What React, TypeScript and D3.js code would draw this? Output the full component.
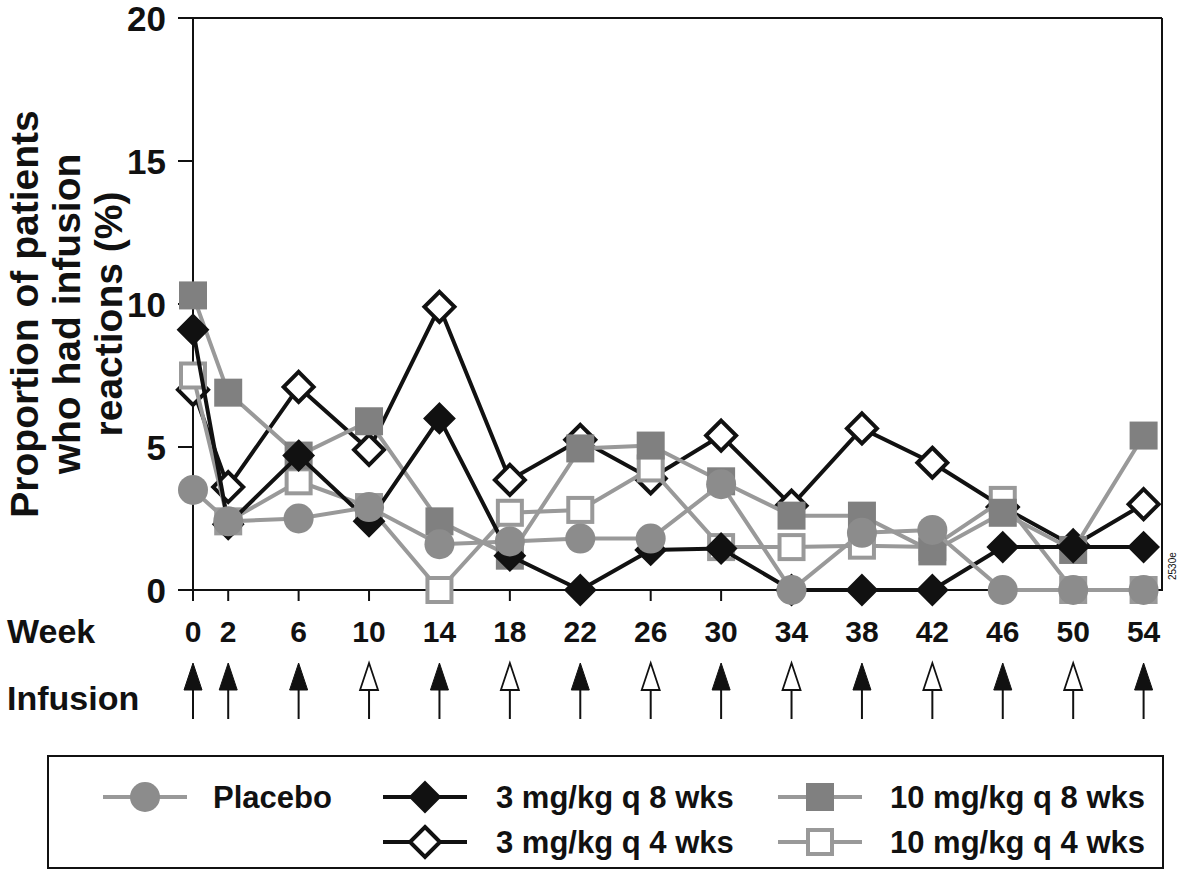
import React from "react";
import * as d3 from "d3";

const weeks = [0, 2, 6, 10, 14, 18, 22, 26, 30, 34, 38, 42, 46, 50, 54];
const placebo = [3.5, 2.4, 2.5, 2.9, 1.6, 1.7, 1.8, 1.8, 3.7, 0, 2.0, 2.1, 0, 0, 0];
const mg3q8 = [9.1, 2.3, 4.7, 2.4, 6.0, 1.2, 0, 1.4, 1.45, 0, 0, 0, 1.5, 1.5, 1.5];
const mg3q4 = [7.0, 3.6, 7.1, 4.9, 9.9, 3.85, 5.25, 3.9, 5.4, 2.95, 5.65, 4.45, 2.9, 1.55, 3.0];
const mg10q8 = [10.3, 6.9, 4.7, 5.9, 2.4, 1.2, 4.95, 5.05, 3.8, 2.6, 2.6, 1.35, 2.7, 1.4, 5.4];
const mg10q4 = [7.5, 2.4, 3.8, 2.9, 0, 2.7, 2.8, 4.25, 1.5, 1.5, 1.55, 1.5, 3.15, 0, 0];
const infusionFilled = [true, true, true, false, true, false, true, false, true, false, true, false, true, false, true];
const yTicks = [0, 5, 10, 15, 20];
const yTitleLines = ["Proportion of patients", "who had infusion", "reactions (%)"];

const FONT = "'Liberation Sans', Arial, Helvetica, sans-serif";
const BLACK = "#111";
const GREY_LINE = "#999";
const GREY_FILL = "#8c8c8c";
const SQ_FILL = "#808080";

type Kind = "circle" | "diamondFilled" | "diamondOpen" | "squareFilled" | "squareOpen";

function Marker({ kind, x, y }: { kind: Kind; x: number; y: number }) {
  if (kind === "circle") return <circle cx={x} cy={y} r={15} fill={GREY_FILL} />;
  if (kind === "diamondFilled" || kind === "diamondOpen") {
    const r = 15;
    const d = `M${x},${y - r}L${x + r},${y}L${x},${y + r}L${x - r},${y}Z`;
    return kind === "diamondFilled" ? (
      <path d={d} fill={BLACK} stroke={BLACK} strokeWidth={2} />
    ) : (
      <path d={d} fill="#fff" stroke={BLACK} strokeWidth={4} />
    );
  }
  if (kind === "squareFilled") return <rect x={x - 14} y={y - 14} width={28} height={28} fill={SQ_FILL} />;
  return <rect x={x - 12} y={y - 12} width={24} height={24} fill="#fff" stroke={GREY_LINE} strokeWidth={4} />;
}

export default function App() {
  const x = d3.scaleLinear().domain([0, 54]).range([193, 1143.6]);
  const y = d3.scaleLinear().domain([0, 20]).range([590, 18]);

  const series: { vals: number[]; kind: Kind; color: string }[] = [
    { vals: mg3q4, kind: "diamondOpen", color: BLACK },
    { vals: mg10q4, kind: "squareOpen", color: GREY_LINE },
    { vals: mg10q8, kind: "squareFilled", color: GREY_LINE },
    { vals: mg3q8, kind: "diamondFilled", color: BLACK },
    { vals: placebo, kind: "circle", color: GREY_LINE },
  ];

  const line = d3
    .line<number>()
    .x((_, i) => x(weeks[i]))
    .y((v) => y(v));

  const legend: { label: string; kind: Kind; color: string; lx: number; ly: number; tx: number }[] = [
    { label: "Placebo", kind: "circle", color: GREY_LINE, lx: 145, ly: 797, tx: 213 },
    { label: "3 mg/kg q 8 wks", kind: "diamondFilled", color: BLACK, lx: 425, ly: 797, tx: 496 },
    { label: "3 mg/kg q 4 wks", kind: "diamondOpen", color: BLACK, lx: 425, ly: 842, tx: 496 },
    { label: "10 mg/kg q 8 wks", kind: "squareFilled", color: GREY_LINE, lx: 820, ly: 797, tx: 890 },
    { label: "10 mg/kg q 4 wks", kind: "squareOpen", color: GREY_LINE, lx: 820, ly: 842, tx: 890 },
  ];

  return (
    <svg width={1200} height={886} style={{ position: "absolute", left: 0, top: 0, background: "#fff" }} fontFamily={FONT}>
      <rect width={1200} height={886} fill="#fff" />
      {/* frame */}
      <line x1={178} x2={1162} y1={18} y2={18} stroke={BLACK} strokeWidth={2} />
      <line x1={1162} x2={1162} y1={18} y2={591} stroke={BLACK} strokeWidth={2} />
      <line x1={193} x2={193} y1={18} y2={600} stroke={BLACK} strokeWidth={2} />
      <line x1={178} x2={1162} y1={590} y2={590} stroke={BLACK} strokeWidth={2} />
      {yTicks.map((t) => (
        <g key={t}>
          <line x1={178} x2={193} y1={y(t)} y2={y(t)} stroke={BLACK} strokeWidth={2} />
          <text x={166} y={y(t)} dy="0.36em" textAnchor="end" fontSize={35} fontWeight="bold" fill={BLACK}>
            {t}
          </text>
        </g>
      ))}
      {weeks.map((w) => (
        <line key={w} x1={x(w)} x2={x(w)} y1={590} y2={601} stroke={BLACK} strokeWidth={2} />
      ))}
      {/* y title */}
      <g transform="translate(0,314) rotate(-90)">
        {yTitleLines.map((t, i) => (
          <text key={t} x={0} y={38 + i * 42} textAnchor="middle" fontSize={39} fontWeight="bold" fill={BLACK}>
            {t}
          </text>
        ))}
      </g>
      {/* series */}
      {series.map((s, si) => (
        <g key={si}>
          <path d={line(s.vals) || ""} fill="none" stroke={s.color} strokeWidth={4} />
          {s.vals.map((v, i) => (
            <Marker key={i} kind={s.kind} x={x(weeks[i])} y={y(v)} />
          ))}
        </g>
      ))}
      {/* week labels */}
      <text x={7} y={643} fontSize={34} fontWeight="bold" fill={BLACK}>
        Week
      </text>
      {weeks.map((w) => (
        <text key={w} x={x(w)} y={642} textAnchor="middle" fontSize={30} fontWeight="bold" fill={BLACK}>
          {w}
        </text>
      ))}
      <text x={7} y={710} fontSize={34} fontWeight="bold" fill={BLACK}>
        Infusion
      </text>
      {weeks.map((w, i) => {
        const cx = x(w);
        const head = `M${cx},663L${cx + 9},690L${cx - 9},690Z`;
        return (
          <g key={w}>
            <line x1={cx} x2={cx} y1={688} y2={719} stroke={BLACK} strokeWidth={2} />
            <path
              d={head}
              fill={infusionFilled[i] ? BLACK : "#fff"}
              stroke={BLACK}
              strokeWidth={infusionFilled[i] ? 1 : 1.8}
              strokeLinejoin="miter"
            />
          </g>
        );
      })}
      <text transform="translate(1176,580) rotate(-90)" fontSize={10} fill={BLACK}>
        2530e
      </text>
      {/* legend */}
      <rect x={48} y={756} width={1115} height={112} fill="none" stroke={BLACK} strokeWidth={2} />
      {legend.map((l) => (
        <g key={l.label}>
          <line x1={l.lx - 42} x2={l.lx + 42} y1={l.ly} y2={l.ly} stroke={l.color} strokeWidth={4} />
          <Marker kind={l.kind} x={l.lx} y={l.ly} />
          <text x={l.tx} y={l.ly} dy="0.36em" fontSize={31} fontWeight="bold" fill={BLACK}>
            {l.label}
          </text>
        </g>
      ))}
    </svg>
  );
}
